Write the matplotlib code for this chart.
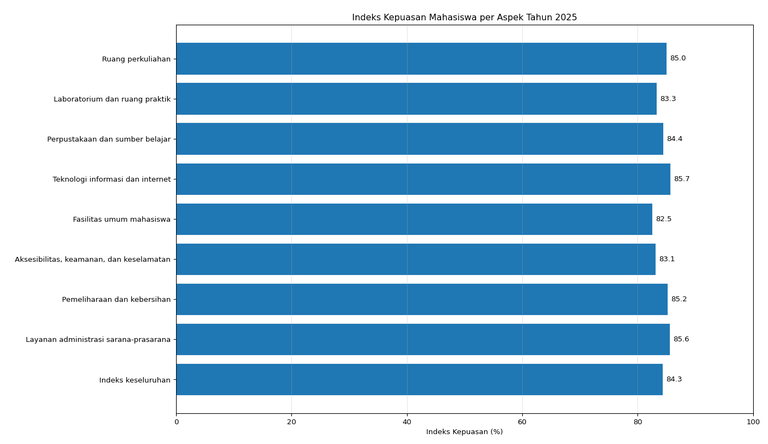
import numpy as np
import matplotlib
matplotlib.use("Agg")
import matplotlib.pyplot as plt
from PIL import Image

aspek = ["Ruang perkuliahan",
         "Laboratorium dan ruang praktik",
         "Perpustakaan dan sumber belajar",
         "Teknologi informasi dan internet",
         "Fasilitas umum mahasiswa",
         "Aksesibilitas, keamanan, dan keselamatan",
         "Pemeliharaan dan kebersihan",
         "Layanan administrasi sarana-prasarana",
         "Indeks keseluruhan"]
nilai = [85.0, 83.3, 84.4, 85.7, 82.5, 83.1, 85.2, 85.6, 84.3]

plt.rcParams['font.size'] = 9.5

fig = plt.figure(figsize=(14, 8.094), dpi=100)
ax = fig.add_axes([0.2292, 0.0698, 0.7513, 0.8739])

y = np.arange(len(aspek))
bars = ax.barh(y, nilai, height=0.8, color='#1f77b4', edgecolor='white', linewidth=0.6)
ax.set_yticks(y)
ax.set_yticklabels(aspek)
ax.invert_yaxis()
ax.set_xlim(0, 100)
ax.grid(axis='x', alpha=0.3)

for b, v in zip(bars, nilai):
    ax.text(v + 0.6, b.get_y() + b.get_height() / 2, "%.1f" % v, va='center', ha='left')

ax.set_xlabel('Indeks Kepuasan (%)')
ax.set_title('Indeks Kepuasan Mahasiswa per Aspek Tahun 2025', fontsize=11.4)

fig.savefig("big.png", dpi=100)
plt.close()

# shrink the large render down to the target size
img = Image.open("big.png").convert("RGB")
img.resize((768, 444), Image.LANCZOS).save("out.png")
